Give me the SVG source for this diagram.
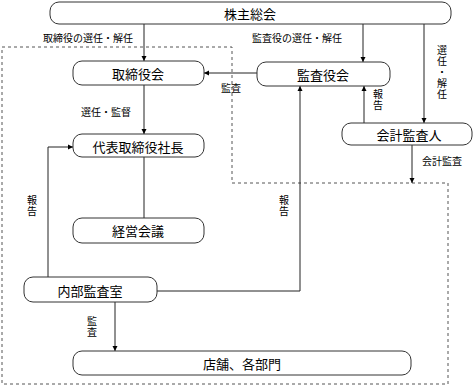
<svg xmlns="http://www.w3.org/2000/svg" width="476" height="386" viewBox="0 0 476 386">
<style>
.n{fill:#fff;stroke:#333;stroke-width:1}
.t{font-family:"Noto Sans CJK JP","Noto Sans CJK SC",sans-serif;font-size:13px;fill:#000;text-anchor:middle;dominant-baseline:central}
.l{font-family:"Noto Sans CJK JP","Noto Sans CJK SC",sans-serif;font-size:10px;fill:#000;text-anchor:middle;dominant-baseline:central}
.v{font-family:"Noto Sans CJK JP","Noto Sans CJK SC",sans-serif;font-size:10px;fill:#000;writing-mode:vertical-rl;text-anchor:start;letter-spacing:1px}
.c{fill:none;stroke:#222;stroke-width:1}
</style>
<defs>
<marker id="a" markerWidth="6" markerHeight="6" refX="5" refY="3" orient="auto" markerUnits="userSpaceOnUse">
<path d="M0,0.5 L5,3 L0,5.5 Z" fill="#000"/>
</marker>
</defs>
<rect x="0" y="0" width="476" height="386" fill="#fff"/>
<path d="M2,47 H232 V183 H448 V384 H2 Z" fill="none" stroke="#555" stroke-width="1" stroke-dasharray="3,3"/>
<g id="connectors">
<path class="c" d="M144,24 V61" marker-end="url(#a)"/>
<path class="c" d="M363,24 V62" marker-end="url(#a)"/>
<path class="c" d="M424,24 V123" marker-end="url(#a)"/>
<path class="c" d="M257,73 H204" marker-end="url(#a)"/>
<path class="c" d="M364,123 V86" marker-end="url(#a)"/>
<path class="c" d="M412,145 V183" marker-end="url(#a)"/>
<path class="c" d="M144,85 V134" marker-end="url(#a)"/>
<path class="c" d="M144,157 V218"/>
<path class="c" d="M48,277 V147 H73" marker-end="url(#a)"/>
<path class="c" d="M157,291 H300 V86" marker-end="url(#a)"/>
<path class="c" d="M115,302 V351" marker-end="url(#a)"/>
<text class="l" x="88" y="37">取締役の選任・解任</text>
<text class="l" x="297" y="37">監査役の選任・解任</text>
<text class="l" x="231" y="87">監査</text>
<text class="l" x="106" y="111">選任・監督</text>
<text class="l" x="442" y="160">会計監査</text>
<text class="v" x="442" y="45">選任・解任</text>
<text class="v" x="378" y="89">報告</text>
<text class="v" x="32" y="195">報告</text>
<text class="v" x="284" y="195">報告</text>
<text class="v" x="92" y="316">監査</text>
</g>
<g id="kabunushi"><rect class="n" x="50" y="2" width="401" height="22" rx="9"/><text class="t" x="250" y="13">株主総会</text></g>
<g id="torishimariyakukai"><rect class="n" x="73" y="61" width="131" height="24" rx="9"/><text class="t" x="138" y="73">取締役会</text></g>
<g id="kansayakukai"><rect class="n" x="257" y="62" width="133" height="24" rx="9"/><text class="t" x="323" y="74">監査役会</text></g>
<g id="kaikeikansanin"><rect class="n" x="342" y="123" width="130" height="22" rx="9"/><text class="t" x="409" y="134">会計監査人</text></g>
<g id="shacho"><rect class="n" x="73" y="134" width="131" height="23" rx="9"/><text class="t" x="138" y="146">代表取締役社長</text></g>
<g id="keieikaigi"><rect class="n" x="73" y="218" width="131" height="25" rx="9"/><text class="t" x="138" y="230">経営会議</text></g>
<g id="naibukansashitsu"><rect class="n" x="24" y="277" width="133" height="25" rx="9"/><text class="t" x="90" y="290">内部監査室</text></g>
<g id="tenpo"><rect class="n" x="73" y="351" width="338" height="24" rx="9"/><text class="t" x="242" y="363">店舗、各部門</text></g>
</svg>
